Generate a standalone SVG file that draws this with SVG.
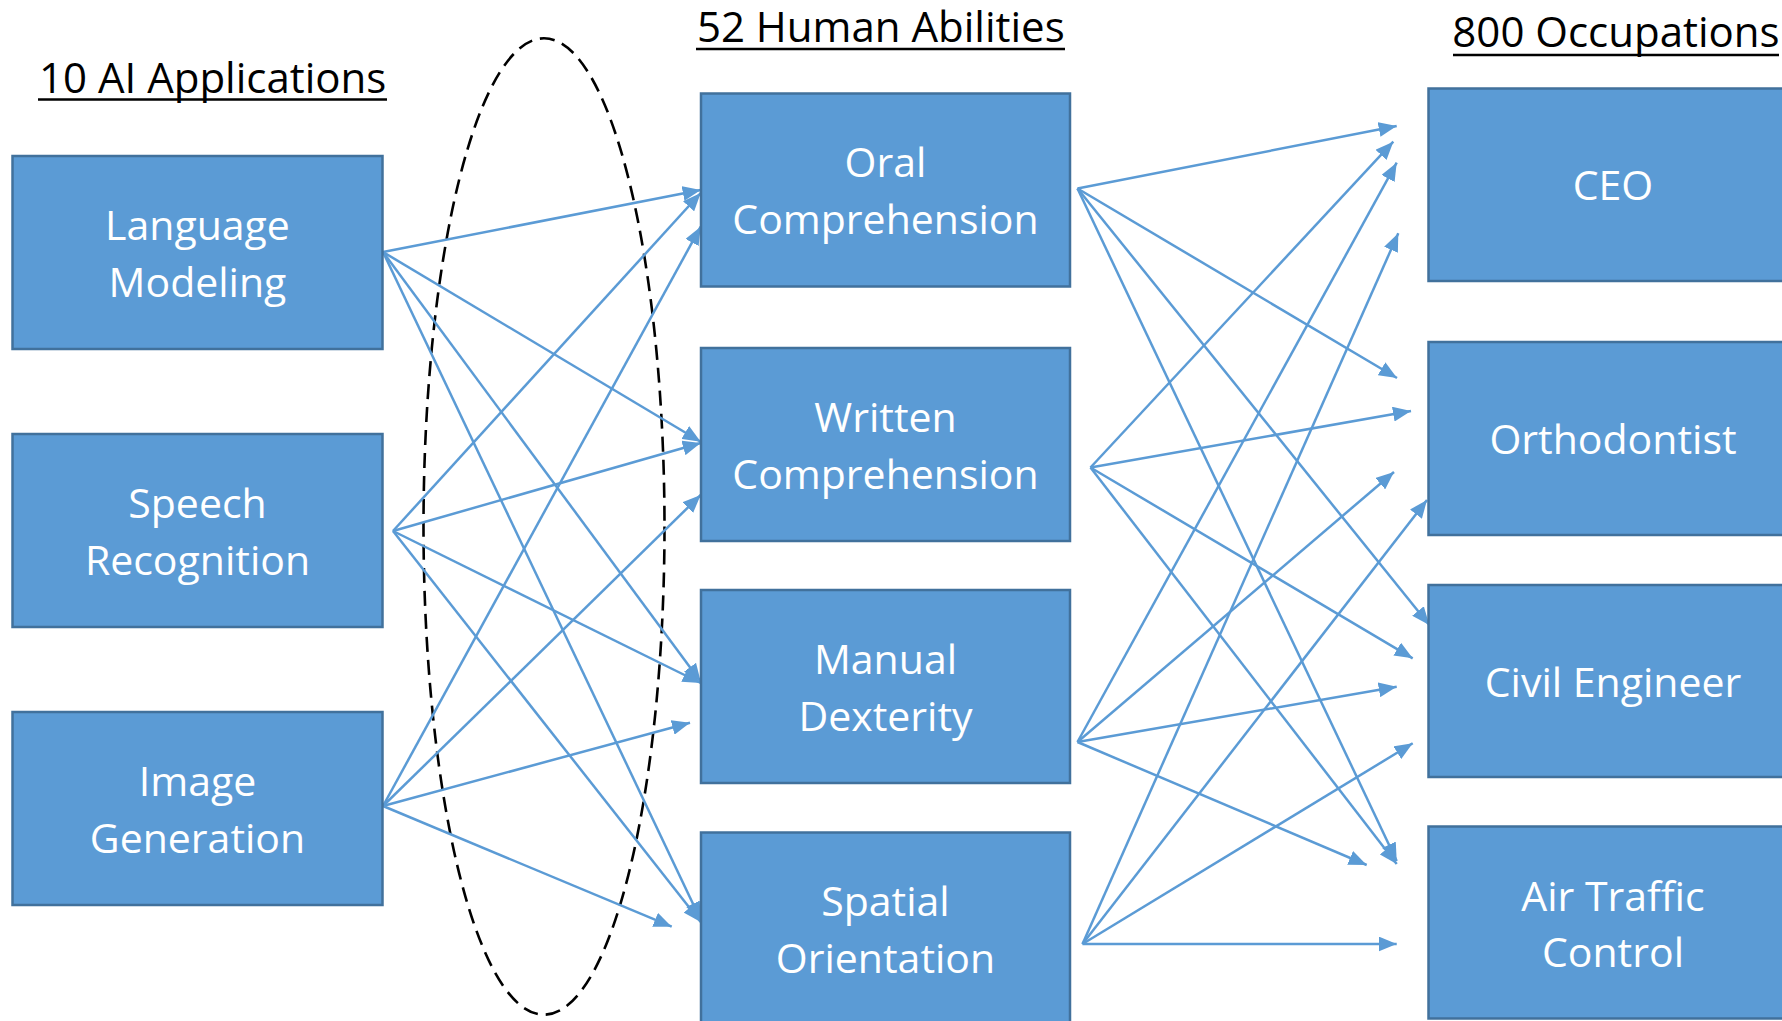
<svg xmlns="http://www.w3.org/2000/svg" width="1782" height="1021" viewBox="0 0 1782 1021">
<style>
.box{fill:#5B9BD5;stroke:#41719C;stroke-width:2.5}
.lbl{font-family:"Open Sans","Noto Sans",sans-serif;font-size:41px;fill:#FFFFFF;text-anchor:middle}
.hdr{font-family:"Open Sans","Noto Sans",sans-serif;font-size:42px;fill:#000000;text-anchor:middle}
.ul{stroke:#000000;stroke-width:2.5}
.c{stroke:#5B9BD5;stroke-width:2.5;fill:none;marker-end:url(#ah)}
</style>
<defs>
<marker id="ah" markerUnits="userSpaceOnUse" markerWidth="19" markerHeight="15" refX="18" refY="7.5" orient="auto">
<path d="M0,0 L18,7.5 L0,15 z" fill="#5B9BD5"/>
</marker>
</defs>
<rect width="1782" height="1021" fill="#FFFFFF"/>

<g id="headers">
<text class="hdr" x="212.7" y="93">10 AI Applications</text>
<line class="ul" x1="38" y1="99.5" x2="387" y2="99.5"/>
<text class="hdr" x="880.8" y="42">52 Human Abilities</text>
<line class="ul" x1="696" y1="49" x2="1065" y2="49"/>
<text class="hdr" x="1616" y="47">800 Occupations</text>
<line class="ul" x1="1453" y1="55" x2="1779" y2="55"/>
</g>

<g id="ellipse">
<ellipse cx="544" cy="526.5" rx="120.5" ry="488.2" fill="none" stroke="#000000" stroke-width="2.6" stroke-dasharray="15 8"/>
</g>

<g id="connectors">
<line class="c" x1="383" y1="252" x2="700.7" y2="190"/>
<line class="c" x1="383" y1="252" x2="700.7" y2="441.7"/>
<line class="c" x1="383" y1="252" x2="700.7" y2="681.7"/>
<line class="c" x1="383" y1="252" x2="700.7" y2="920"/>
<line class="c" x1="393" y1="531" x2="700.7" y2="193"/>
<line class="c" x1="393" y1="531" x2="700.7" y2="443"/>
<line class="c" x1="393" y1="531" x2="700.7" y2="683"/>
<line class="c" x1="393" y1="531" x2="700.7" y2="922"/>
<line class="c" x1="383" y1="806" x2="700.7" y2="226.7"/>
<line class="c" x1="383" y1="806" x2="700.7" y2="495"/>
<line class="c" x1="383" y1="806" x2="690" y2="722.7"/>
<line class="c" x1="383" y1="806" x2="671.7" y2="926.7"/>
<line class="c" x1="1077.5" y1="188.5" x2="1396.7" y2="126"/>
<line class="c" x1="1077.5" y1="188.5" x2="1397" y2="378"/>
<line class="c" x1="1077.5" y1="188.5" x2="1429.3" y2="625"/>
<line class="c" x1="1077.5" y1="188.5" x2="1396.7" y2="861"/>
<line class="c" x1="1090.5" y1="467.5" x2="1393.3" y2="141.7"/>
<line class="c" x1="1090.5" y1="467.5" x2="1411" y2="411"/>
<line class="c" x1="1090.5" y1="467.5" x2="1412.7" y2="658.3"/>
<line class="c" x1="1090.5" y1="467.5" x2="1396.7" y2="864"/>
<line class="c" x1="1077.5" y1="742" x2="1396.7" y2="162.7"/>
<line class="c" x1="1077.5" y1="742" x2="1394" y2="472"/>
<line class="c" x1="1077.5" y1="742" x2="1396.7" y2="686.7"/>
<line class="c" x1="1077.5" y1="742" x2="1366.7" y2="865"/>
<line class="c" x1="1082.5" y1="944" x2="1398.3" y2="233.3"/>
<line class="c" x1="1082.5" y1="944" x2="1427" y2="500"/>
<line class="c" x1="1082.5" y1="944" x2="1412.7" y2="743.3"/>
<line class="c" x1="1082.5" y1="944" x2="1396.7" y2="944"/>
</g>

<g id="node-language-modeling">
<rect class="box" x="12.5" y="156" width="370" height="193"/>
<text class="lbl" x="197.5" y="239.5">Language</text>
<text class="lbl" x="197.5" y="296.5">Modeling</text>
</g>
<g id="node-speech-recognition">
<rect class="box" x="12.5" y="434" width="370" height="193"/>
<text class="lbl" x="197.5" y="517.5">Speech</text>
<text class="lbl" x="197.5" y="574.5">Recognition</text>
</g>
<g id="node-image-generation">
<rect class="box" x="12.5" y="712" width="370" height="193"/>
<text class="lbl" x="197.5" y="795.5">Image</text>
<text class="lbl" x="197.5" y="852.5">Generation</text>
</g>

<g id="node-oral-comprehension">
<rect class="box" x="701" y="93.5" width="369" height="193"/>
<text class="lbl" x="885.5" y="177">Oral</text>
<text class="lbl" x="885.5" y="234">Comprehension</text>
</g>
<g id="node-written-comprehension">
<rect class="box" x="701" y="348" width="369" height="193"/>
<text class="lbl" x="885.5" y="432">Written</text>
<text class="lbl" x="885.5" y="489">Comprehension</text>
</g>
<g id="node-manual-dexterity">
<rect class="box" x="701" y="590" width="369" height="193"/>
<text class="lbl" x="885.5" y="673.5">Manual</text>
<text class="lbl" x="885.5" y="730.5">Dexterity</text>
</g>
<g id="node-spatial-orientation">
<rect class="box" x="701" y="832.5" width="369" height="193"/>
<text class="lbl" x="885.5" y="915.5">Spatial</text>
<text class="lbl" x="885.5" y="972.5">Orientation</text>
</g>

<g id="node-ceo">
<rect class="box" x="1428.5" y="88.5" width="369" height="192.5"/>
<text class="lbl" x="1613" y="200">CEO</text>
</g>
<g id="node-orthodontist">
<rect class="box" x="1428.5" y="342" width="369" height="193"/>
<text class="lbl" x="1613" y="454">Orthodontist</text>
</g>
<g id="node-civil-engineer">
<rect class="box" x="1428.5" y="585" width="369" height="192"/>
<text class="lbl" x="1613" y="697">Civil Engineer</text>
</g>
<g id="node-air-traffic-control">
<rect class="box" x="1428.5" y="826.5" width="369" height="192"/>
<text class="lbl" x="1613" y="911">Air Traffic</text>
<text class="lbl" x="1613" y="967">Control</text>
</g>
</svg>
